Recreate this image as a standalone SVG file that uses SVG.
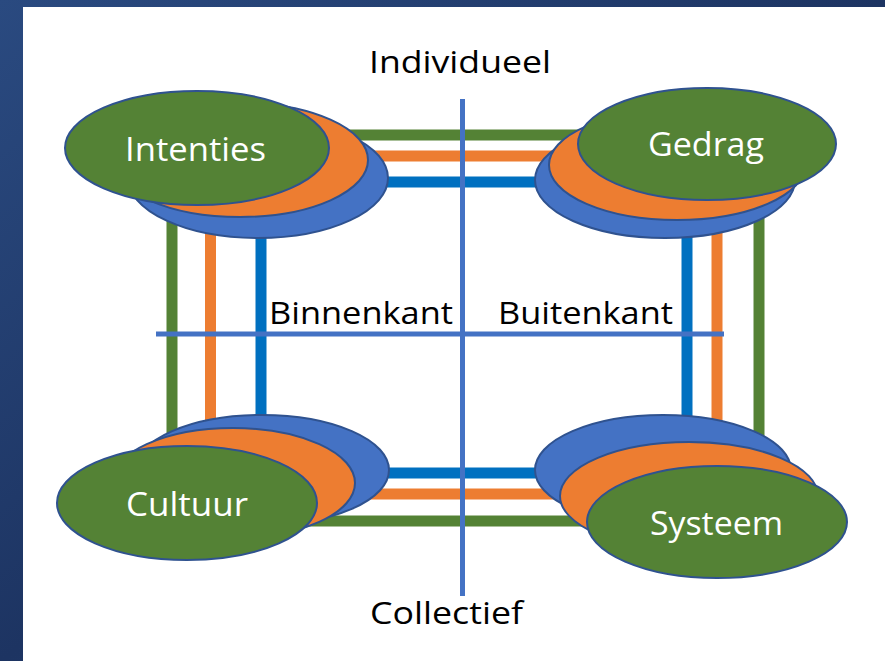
<svg xmlns="http://www.w3.org/2000/svg" width="885" height="661" viewBox="0 0 885 661">
<defs>
<linearGradient id="bg" x1="0" y1="0" x2="1" y2="1">
<stop offset="0" stop-color="#2a4a80"/>
<stop offset="0.5" stop-color="#1d3462"/>
<stop offset="1" stop-color="#27457a"/>
</linearGradient>
<style>
.e{stroke:#2f528f;stroke-width:2}
.g{fill:#548235}.o{fill:#ed7d31}.b{fill:#4472c4}
.lg{fill:none;stroke:#548235;stroke-width:11}
.lo{fill:none;stroke:#ed7d31;stroke-width:11}
.lb{fill:none;stroke:#0070c0;stroke-width:11}
.ax{stroke:#4472c4;stroke-width:5}
.t{font-family:"Open Sans","Noto Sans",sans-serif;font-size:31px;fill:#000}
.w{font-family:"Open Sans","Noto Sans",sans-serif;font-size:32px;fill:#fff}
</style>
</defs>
<rect x="0" y="0" width="885" height="661" fill="url(#bg)"/>
<rect x="23" y="7" width="862" height="654" fill="#fff"/>
<g id="connectors">
<rect class="lg" x="172" y="135" width="587" height="386"/>
<rect class="lo" x="210.5" y="156" width="506.5" height="338"/>
<rect class="lb" x="261" y="182" width="426" height="291"/>
<line class="ax" x1="462.5" y1="99" x2="462.5" y2="596"/>
<line class="ax" x1="156" y1="334" x2="724" y2="334"/>
</g>
<g id="labels">
<text class="t" x="369" y="73" textLength="182" lengthAdjust="spacingAndGlyphs">Individueel</text>
<text class="t" x="370" y="624" textLength="153" lengthAdjust="spacingAndGlyphs">Collectief</text>
<text class="t" x="269" y="324" textLength="184" lengthAdjust="spacingAndGlyphs">Binnenkant</text>
<text class="t" x="498" y="324" textLength="175" lengthAdjust="spacingAndGlyphs">Buitenkant</text>
</g>
<g id="intenties">
<ellipse class="e b" cx="258" cy="178" rx="130" ry="60"/>
<ellipse class="e o" cx="240" cy="160" rx="128" ry="57"/>
<ellipse class="e g" cx="197" cy="148" rx="132" ry="57"/>
<text class="w" x="125" y="161" textLength="141" lengthAdjust="spacingAndGlyphs">Intenties</text>
</g>
<g id="gedrag">
<ellipse class="e b" cx="665" cy="180" rx="130" ry="58"/>
<ellipse class="e o" cx="677" cy="165" rx="128" ry="55"/>
<ellipse class="e g" cx="707" cy="144" rx="129" ry="56"/>
<text class="w" x="648" y="156" textLength="116" lengthAdjust="spacingAndGlyphs">Gedrag</text>
</g>
<g id="cultuur">
<ellipse class="e b" cx="262" cy="470" rx="127" ry="55"/>
<ellipse class="e o" cx="233" cy="483" rx="122" ry="55"/>
<ellipse class="e g" cx="187" cy="503" rx="130" ry="57"/>
<text class="w" x="126" y="516" textLength="122" lengthAdjust="spacingAndGlyphs">Cultuur</text>
</g>
<g id="systeem">
<ellipse class="e b" cx="663" cy="470" rx="128" ry="55"/>
<ellipse class="e o" cx="689" cy="496" rx="129" ry="54"/>
<ellipse class="e g" cx="717" cy="522" rx="130" ry="56"/>
<text class="w" x="650" y="535" textLength="133" lengthAdjust="spacingAndGlyphs">Systeem</text>
</g>
</svg>
